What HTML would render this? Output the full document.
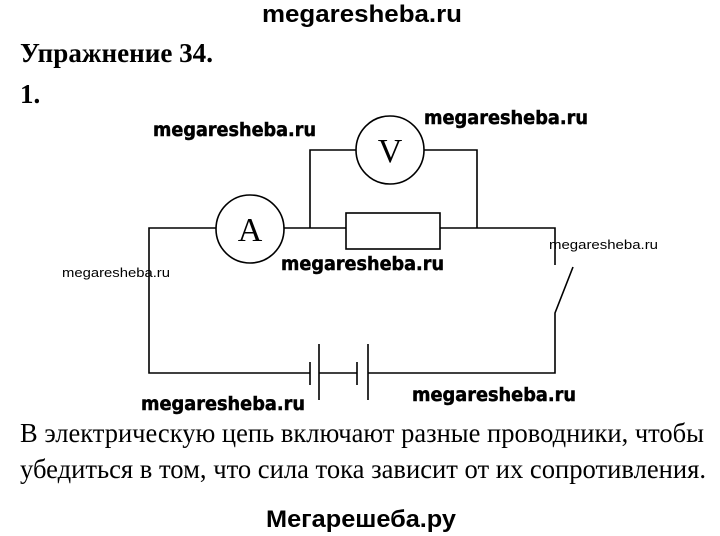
<!DOCTYPE html>
<html><head><meta charset="utf-8"><style>html,body{margin:0;padding:0;background:#fff}svg{display:block}</style></head>
<body>
<svg width="720" height="536" viewBox="0 0 720 536" xmlns="http://www.w3.org/2000/svg">
<g font-family="Liberation Sans, sans-serif" font-weight="bold" fill="#000">
<text x="262" y="22" font-size="24" textLength="200" lengthAdjust="spacingAndGlyphs">megaresheba.ru</text>
<text x="266" y="527" font-size="24" textLength="190" lengthAdjust="spacingAndGlyphs">Мегарешеба.ру</text>
</g>
<g font-family="DejaVu Sans, sans-serif" font-weight="bold" fill="#000" stroke="#000" stroke-width="0.5">
<text x="153" y="136" font-size="19" textLength="163" lengthAdjust="spacingAndGlyphs">megaresheba.ru</text>
<text x="424" y="124" font-size="19" textLength="164" lengthAdjust="spacingAndGlyphs">megaresheba.ru</text>
<text x="281" y="270" font-size="19" textLength="163" lengthAdjust="spacingAndGlyphs">megaresheba.ru</text>
<text x="141" y="410" font-size="19" textLength="164" lengthAdjust="spacingAndGlyphs">megaresheba.ru</text>
<text x="412" y="401" font-size="19" textLength="164" lengthAdjust="spacingAndGlyphs">megaresheba.ru</text>
</g>
<g font-family="Liberation Sans, sans-serif" fill="#000" font-size="13">
<text x="62" y="277" textLength="108" lengthAdjust="spacingAndGlyphs">megaresheba.ru</text>
<text x="549" y="249" textLength="109" lengthAdjust="spacingAndGlyphs">megaresheba.ru</text>
</g>
<g font-family="Liberation Serif, serif" fill="#000">
<text x="20" y="62" font-size="27" font-weight="bold" textLength="193" lengthAdjust="spacingAndGlyphs">Упражнение 34.</text>
<text x="20" y="103" font-size="27" font-weight="bold">1.</text>
<text x="20" y="442" font-size="27" textLength="684" lengthAdjust="spacingAndGlyphs">В электрическую цепь включают разные проводники, чтобы</text>
<text x="20" y="478" font-size="27" textLength="686" lengthAdjust="spacingAndGlyphs">убедиться в том, что сила тока зависит от их сопротивления.</text>
</g>
<g stroke="#000" stroke-width="1.6" fill="none">
<path d="M216 228 H149 V373 H310 M319 373 H357 M368 373 H555 V313 L573 267 M555 265 V228 H440 M346 228 H284"/>
<path d="M310 228 V150 H356 M424 150 H477 V228"/>
<circle cx="250" cy="229" r="34"/>
<circle cx="390" cy="150" r="34"/>
<rect x="346" y="213" width="94" height="36"/>
<path d="M310 362 V385 M319 344 V400 M357 362 V385 M368 344 V400"/>
</g>
<g font-family="Liberation Serif, serif" font-size="34" fill="#000" text-anchor="middle">
<text x="250" y="241">A</text>
<text x="390" y="162">V</text>
</g>
</svg>
</body></html>
